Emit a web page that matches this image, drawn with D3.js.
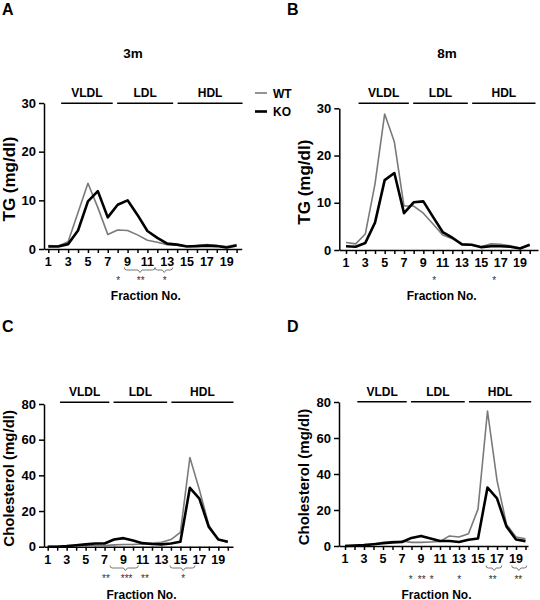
<!DOCTYPE html>
<html>
<head>
<meta charset="utf-8">
<script src="https://cdn.jsdelivr.net/npm/d3@7"></script>
<style>
  html, body { margin: 0; padding: 0; background: #fff; }
  svg text { font-family: "Liberation Sans", Arial, sans-serif; }
</style>
</head>
<body>
<script>
// ---------- data ----------
const fractions = d3.range(1, 21);
const xTickLabels = [1, 3, 5, 7, 9, 11, 13, 15, 17, 19];
const tgTicks = [0, 10, 20, 30];
const cholTicks = [0, 20, 40, 60, 80];

const tg3mWT = [0.7, 0.6, 1.5, 7.5, 13.5, 8.5, 3.0, 3.9, 3.8, 2.9, 1.8, 1.4, 0.9, 0.8, 0.6, 0.7, 0.9, 0.7, 0.5, 0.9];
const tg3mKO = [0.5, 0.5, 1.0, 3.8, 9.8, 11.9, 6.5, 9.1, 10.0, 7.0, 3.7, 2.3, 1.1, 0.9, 0.5, 0.6, 0.7, 0.6, 0.3, 0.7];
const tg8mWT = [1.6, 1.3, 3.4, 14.0, 28.8, 22.9, 9.3, 9.3, 7.8, 5.5, 3.2, 2.4, 1.2, 1.0, 0.7, 1.3, 1.2, 0.9, 0.4, 1.0];
const tg8mKO = [0.8, 0.7, 1.5, 5.8, 14.8, 16.3, 7.8, 10.1, 10.3, 7.0, 3.8, 2.6, 1.2, 1.1, 0.6, 0.8, 0.8, 0.7, 0.3, 1.1];
const chol3mWT = [0.2, 0.2, 0.3, 0.5, 0.8, 0.8, 0.7, 1.0, 1.2, 1.2, 1.5, 2.0, 2.5, 4.0, 8.0, 50.0, 32.0, 12.0, 4.0, 2.5];
const chol3mKO = [0.0, 0.0, 0.3, 0.8, 1.3, 1.8, 1.8, 4.0, 4.8, 3.5, 2.0, 1.5, 1.3, 1.8, 2.8, 33.0, 27.0, 11.0, 4.0, 2.8];
const chol8mWT = [0.2, 0.3, 0.6, 1.0, 2.0, 2.5, 2.8, 2.0, 2.0, 2.2, 2.5, 5.6, 5.0, 6.8, 20.5, 75.0, 36.5, 12.0, 5.0, 4.0];
const chol8mKO = [0.0, 0.2, 0.5, 1.0, 1.5, 2.0, 2.2, 4.5, 5.6, 4.2, 2.8, 2.8, 2.2, 3.5, 4.2, 32.5, 26.5, 10.8, 3.6, 2.7];

const lipoClasses = ["VLDL", "LDL", "HDL"];
const lipoRanges = [[2.3, 7.5], [7.95, 13.6], [14.05, 20.6]];

const sigA = [[8.06, "*"], [10.32, "**"], [12.75, "*"]];
const bracketsA = [[8.67, 11.77, 10.25], [11.77, 13.55, 12.7]];
const sigB = [[10.13, "*"], [16.34, "*"]];
const bracketsB = [];
const sigC = [[7.15, "**"], [9.33, "***"], [11.26, "**"], [15.3, "*"]];
const bracketsC = [[7.57, 10.56, 9.2], [13.9, 16.54, 15.3]];
const sigD = [[7.92, "*"], [9.07, "**"], [10.13, "*"], [13.03, "*"], [16.55, "**"], [19.24, "**"]];
const bracketsD = [[15.84, 17.5, 16.7], [18.55, 20.13, 19.3]];

// ---------- layout ----------
const panels = [
  { letter: "A", title: "3m", ylab: "TG (mg/dl)", ylabSize: 17, wt: tg3mWT, ko: tg3mKO, ticks: tgTicks, yMax: 30,
    left: 44, right: 241.7, f1: 48.3, f20: 236.6, yBottom: 249, yTop: 103, classY: 103.3,
    sig: sigA, brackets: bracketsA, sigY: 284, brY: 270, fracY: 300, ylabX: 15, letterX: 2, letterY: 15, titleX: 133, titleY: 58 },
  { letter: "B", title: "8m", ylab: "TG (mg/dl)", ylabSize: 17, wt: tg8mWT, ko: tg8mKO, ticks: tgTicks, yMax: 30,
    left: 339.3, right: 538, f1: 346, f20: 529.7, yBottom: 250, yTop: 108.3, classY: 103.3,
    sig: sigB, brackets: bracketsB, sigY: 284, brY: 270, fracY: 300, ylabX: 310, letterX: 287, letterY: 15, titleX: 447, titleY: 58 },
  { letter: "C", title: null, ylab: "Cholesterol (mg/dl)", ylabSize: 15, wt: chol3mWT, ko: chol3mKO, ticks: cholTicks, yMax: 80,
    left: 44, right: 233, f1: 47.7, f20: 227.8, yBottom: 546.7, yTop: 404, classY: 402.3,
    sig: sigC, brackets: bracketsC, sigY: 582, brY: 568, fracY: 598.5, ylabX: 14, letterX: 2, letterY: 332, titleX: 0, titleY: 0 },
  { letter: "D", title: null, ylab: "Cholesterol (mg/dl)", ylabSize: 15, wt: chol8mWT, ko: chol8mKO, ticks: cholTicks, yMax: 80,
    left: 339, right: 528, f1: 345, f20: 525.5, yBottom: 546, yTop: 402, classY: 401.7,
    sig: sigD, brackets: bracketsD, sigY: 583, brY: 568, fracY: 598.5, ylabX: 309, letterX: 287, letterY: 332, titleX: 0, titleY: 0 }
];

const svg = d3.select("body").append("svg").attr("width", 540).attr("height", 600);

panels.forEach(p => {
  const g = svg.append("g");
  const xs = d3.scaleLinear().domain([1, 20]).range([p.f1, p.f20]);
  const xFull = d3.scaleLinear().domain([xs.invert(p.left), xs.invert(p.right)]).range([p.left, p.right]);
  const ys = d3.scaleLinear().domain([0, p.yMax]).range([p.yBottom, p.yTop]);

  // panel letter + title
  g.append("text").attr("x", p.letterX).attr("y", p.letterY).attr("font-size", 16).attr("font-weight", "bold").text(p.letter);
  if (p.title) g.append("text").attr("x", p.titleX).attr("y", p.titleY).attr("text-anchor", "middle")
    .attr("font-size", 13.5).attr("font-weight", "bold").text(p.title);

  // x axis
  const xAxis = g.append("g").attr("transform", `translate(0,${p.yBottom})`)
    .call(d3.axisBottom(xFull).tickValues(fractions).tickSizeInner(4).tickSizeOuter(0).tickFormat(() => ""));
  xAxis.selectAll("path,line").attr("stroke", "#000").attr("stroke-width", 1.5);
  g.selectAll(".xl").data(xTickLabels).enter().append("text")
    .attr("x", d => xs(d)).attr("y", p.yBottom + 17).attr("text-anchor", "middle")
    .attr("font-size", 12.5).attr("font-weight", "bold").text(d => d);

  // y axis
  const yAxis = g.append("g").attr("transform", `translate(${p.left},0)`)
    .call(d3.axisLeft(ys).tickValues(p.ticks).tickSizeInner(5).tickSizeOuter(0).tickFormat(() => ""));
  yAxis.selectAll("path,line").attr("stroke", "#000").attr("stroke-width", 1.5);
  g.selectAll(".yl").data(p.ticks).enter().append("text")
    .attr("x", p.left - 8).attr("y", d => ys(d) + 4.5).attr("text-anchor", "end")
    .attr("font-size", 13).attr("font-weight", "bold").text(d => d);

  // y label
  const cy = (p.yBottom + p.yTop) / 2 + 3;
  g.append("text").attr("transform", `translate(${p.ylabX},${cy}) rotate(-90)`).attr("text-anchor", "middle")
    .attr("font-size", p.ylabSize).attr("font-weight", "bold").text(p.ylab);

  // x label
  g.append("text").attr("x", (p.left + p.right) / 2 + 3).attr("y", p.fracY).attr("text-anchor", "middle")
    .attr("font-size", 12).attr("font-weight", "bold").text("Fraction No.");

  // lipoprotein class bars
  lipoClasses.forEach((c, i) => {
    const [a, b] = lipoRanges[i];
    g.append("line").attr("x1", xs(a)).attr("x2", xs(b)).attr("y1", p.classY).attr("y2", p.classY)
      .attr("stroke", "#000").attr("stroke-width", 1.6);
    g.append("text").attr("x", (xs(a) + xs(b)) / 2).attr("y", p.classY - 6).attr("text-anchor", "middle")
      .attr("font-size", 12).attr("font-weight", "bold").text(c);
  });

  // series lines
  const line = d3.line().x((d, i) => xs(fractions[i])).y(d => ys(d));
  g.append("path").datum(p.wt).attr("d", line).attr("fill", "none").attr("stroke", "#7a7a7a").attr("stroke-width", 1.6).attr("stroke-linejoin", "round");
  g.append("path").datum(p.ko).attr("d", line).attr("fill", "none").attr("stroke", "#000").attr("stroke-width", 2.6).attr("stroke-linejoin", "round");

  // brackets
  p.brackets.forEach(([a, b, c]) => {
    const x0 = xs(a), x1 = xs(b), xc = xs(c), y = p.brY;
    const path = `M${x0},${y - 2.5} Q${x0},${y} ${x0 + 2.5},${y} L${xc - 2},${y} L${xc},${y + 2.5} L${xc + 2},${y} L${x1 - 2.5},${y} Q${x1},${y} ${x1},${y - 2.5}`;
    g.append("path").attr("d", path).attr("fill", "none").attr("stroke", "#777").attr("stroke-width", 1);
  });

  // significance stars
  p.sig.forEach(([f, s]) => {
    g.append("text").attr("x", xs(f)).attr("y", p.sigY).attr("text-anchor", "middle")
      .attr("font-size", 10).attr("fill", "#333").text(s);
  });
});

// legend (panel A)
const legend = svg.append("g");
const legendNames = ["WT", "KO"];
const legendColors = ["#7a7a7a", "#000"];
const legendWidths = [1.6, 2.6];
legendNames.forEach((n, i) => {
  const yy = 93 + i * 18.5;
  legend.append("line").attr("x1", 255).attr("x2", 267).attr("y1", yy).attr("y2", yy)
    .attr("stroke", legendColors[i]).attr("stroke-width", legendWidths[i]);
  legend.append("text").attr("x", 273).attr("y", yy + 4.5).attr("font-size", 12).attr("font-weight", "bold").text(n);
});
</script>
</body>
</html>
